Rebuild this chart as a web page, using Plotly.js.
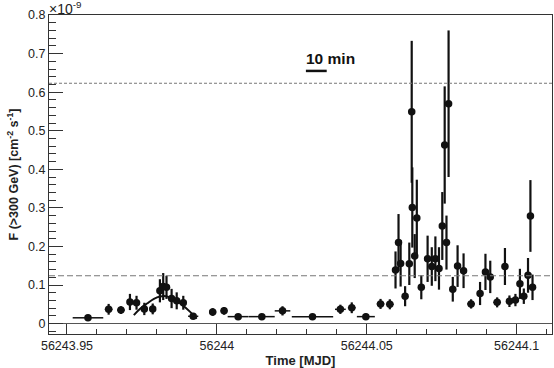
<!DOCTYPE html>
<html>
<head>
<meta charset="utf-8">
<script src="https://cdn.plot.ly/plotly-3.0.1.min.js"></script>
<style>
  html, body { margin: 0; padding: 0; background: #fff; }
  #chart { width: 554px; height: 368px; }
</style>
</head>
<body>
<div id="chart"></div>
<script>
// light curve, flux in units of 1e-9 cm^-2 s^-1
let mjd = [
  56243.957, 56243.9639, 56243.968, 56243.971, 56243.9732, 56243.9758, 56243.9786,
  56243.981, 56243.9821, 56243.9832, 56243.9849, 56243.9866, 56243.9888, 56243.9921,
  56243.9986, 56244.0024, 56244.0071, 56244.015, 56244.0219, 56244.0319, 56244.0412,
  56244.045, 56244.0497, 56244.0546, 56244.0577, 56244.0596, 56244.0606, 56244.0613,
  56244.0628, 56244.0642, 56244.065, 56244.0652, 56244.066, 56244.0667, 56244.0682,
  56244.0703, 56244.0717, 56244.0729, 56244.0741, 56244.0752, 56244.076, 56244.0766,
  56244.0773, 56244.0787, 56244.0803, 56244.0823, 56244.0848, 56244.0878, 56244.0896,
  56244.0912, 56244.0935, 56244.0961, 56244.0976, 56244.0996, 56244.1011, 56244.1024,
  56244.1038, 56244.1046, 56244.1053
];
let flux = [
  0.015, 0.037, 0.035, 0.056, 0.054, 0.038, 0.038,
  0.085, 0.096, 0.094, 0.065, 0.059, 0.054, 0.019,
  0.030, 0.033, 0.018, 0.018, 0.033, 0.018, 0.037,
  0.041, 0.018, 0.051, 0.050, 0.139, 0.210, 0.156,
  0.071, 0.155, 0.549, 0.301, 0.175, 0.274, 0.094,
  0.168, 0.148, 0.168, 0.143, 0.253, 0.463, 0.210,
  0.570, 0.089, 0.149, 0.137, 0.051, 0.078, 0.134,
  0.121, 0.055, 0.148, 0.058, 0.061, 0.103, 0.071,
  0.125, 0.279, 0.094
];
let fluxErr = [
  0.004, 0.014, 0.010, 0.021, 0.018, 0.016, 0.014,
  0.030, 0.035, 0.030, 0.025, 0.022, 0.018, 0.006,
  0.010, 0.010, 0.005, 0.005, 0.012, 0.004, 0.012,
  0.014, 0.008, 0.013, 0.013, 0.048, 0.074, 0.060,
  0.026, 0.055, 0.184, 0.104, 0.057, 0.099, 0.031,
  0.060, 0.050, 0.058, 0.055, 0.088, 0.152, 0.070,
  0.190, 0.032, 0.054, 0.045, 0.012, 0.030, 0.047,
  0.042, 0.013, 0.048, 0.015, 0.016, 0.039, 0.020,
  0.045, 0.093, 0.033
];
let timeErr = [
  0.0051, 0.0013, 0.0013, 0.001, 0.001, 0.001, 0.001,
  0.001, 0.0008, 0.0008, 0.0008, 0.0008, 0.001, 0.0017,
  0.0012, 0.0012, 0.0035, 0.0043, 0.0026, 0.0069, 0.0018,
  0.0013, 0.003, 0.0013, 0.0013, 0.0005, 0.0005, 0.0005,
  0.0008, 0.0005, 0.0005, 0.0005, 0.0005, 0.0005, 0.0008,
  0.0005, 0.0005, 0.0005, 0.0005, 0.0005, 0.0005, 0.0005,
  0.0005, 0.0008, 0.0005, 0.0005, 0.0013, 0.0008, 0.0005,
  0.0005, 0.0013, 0.0005, 0.001, 0.001, 0.0005, 0.0008,
  0.0005, 0.0005, 0.0008
];

// fitted flare profile
let fitX = [56243.9723, 56243.9743, 56243.9767, 56243.979, 56243.981, 56243.983,
            56243.985, 56243.987, 56243.989, 56243.991, 56243.9933];
let fitY = [0.022, 0.038, 0.052, 0.064, 0.070, 0.071, 0.066, 0.057, 0.045, 0.031, 0.013];

// reference levels
let upperLevel = 0.623;
let lowerLevel = 0.124;

// 10 minute scale bar
let barStart = 56244.0297;
let barLen = 10 / 1440;
let barY = 0.655;

let tickVals = [56243.95, 56244, 56244.05, 56244.1];
let tickText = ['56243.95', '56244', '56244.05', '56244.1'];

let font = 'Liberation Sans, Arial, Helvetica, sans-serif';

let data = [
  {
    x: fitX,
    y: fitY,
    type: 'scatter',
    mode: 'lines',
    line: {color: '#111', width: 2, shape: 'spline'},
    hoverinfo: 'skip'
  },
  {
    x: mjd,
    y: flux,
    type: 'scatter',
    mode: 'markers',
    marker: {color: '#111', size: 7.5},
    error_y: {type: 'data', array: fluxErr, visible: true, color: '#111', thickness: 2.2, width: 0},
    error_x: {type: 'data', array: timeErr, visible: true, color: '#111', thickness: 1.5, width: 0}
  }
];

let layout = {
  width: 554,
  height: 368,
  margin: {l: 49, r: 2, t: 15, b: 34},
  paper_bgcolor: '#fff',
  plot_bgcolor: '#fff',
  showlegend: false,
  font: {family: font, size: 12, color: '#222'},
  xaxis: {
    range: [56243.944, 56244.1118],
    tickvals: tickVals,
    ticktext: tickText,
    ticks: 'inside',
    ticklen: 10,
    tickwidth: 1,
    tickcolor: '#333',
    minor: {ticks: 'inside', ticklen: 5, dtick: 0.01, tick0: 56243.95, tickcolor: '#333', showgrid: false},
    showgrid: false,
    zeroline: false,
    showline: true,
    mirror: true,
    linecolor: '#333',
    linewidth: 1,
    tickfont: {size: 12.5},
    title: {text: '<b>Time [MJD]</b>', font: {size: 13}, standoff: 4}
  },
  yaxis: {
    range: [-0.027, 0.8],
    dtick: 0.1,
    tick0: 0,
    ticks: 'inside',
    ticklen: 14,
    tickwidth: 1,
    tickcolor: '#333',
    minor: {ticks: 'inside', ticklen: 7, dtick: 0.02, tick0: 0, tickcolor: '#333', showgrid: false},
    showgrid: false,
    zeroline: true,
    zerolinecolor: '#555',
    zerolinewidth: 1,
    showline: true,
    mirror: true,
    linecolor: '#333',
    linewidth: 1,
    tickfont: {size: 12.5},
    title: {text: '<b>F (>300 GeV) [cm<sup>-2</sup> s<sup>-1</sup>]</b>', font: {size: 12.5}, standoff: 6}
  },
  shapes: [
    {type: 'line', xref: 'paper', x0: 0, x1: 1, yref: 'y', y0: upperLevel, y1: upperLevel,
     line: {color: '#777', width: 1.2, dash: '3px,2px'}},
    {type: 'line', xref: 'paper', x0: 0, x1: 1, yref: 'y', y0: lowerLevel, y1: lowerLevel,
     line: {color: '#777', width: 1.2, dash: '6px,3px'}},
    {type: 'line', xref: 'x', x0: barStart, x1: barStart + barLen, yref: 'y', y0: barY, y1: barY,
     line: {color: '#111', width: 2.5}}
  ],
  annotations: [
    {text: '<b>10 min</b>', xref: 'x', yref: 'y', x: barStart, y: barY + 0.006,
     xanchor: 'left', yanchor: 'bottom', showarrow: false, font: {size: 15.5, color: '#111'}, xshift: -2},
    {text: '×10<sup>-9</sup>', xref: 'paper', yref: 'paper', x: 0, y: 1, xanchor: 'left', yanchor: 'bottom',
     showarrow: false, font: {size: 14, color: '#222'}, yshift: -4, xshift: -2}
  ]
};

let config = {responsive: false, displayModeBar: false, staticPlot: true};

Plotly.newPlot('chart', data, layout, config);
</script>
</body>
</html>
